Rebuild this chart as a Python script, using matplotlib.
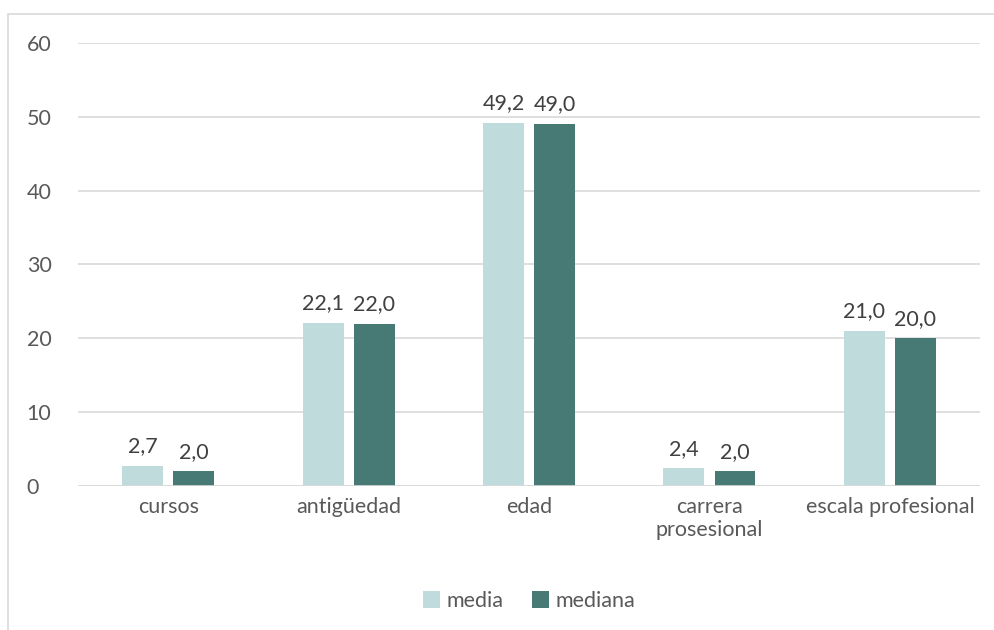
import matplotlib.pyplot as plt
from matplotlib.patches import Rectangle
import numpy as np

categorias = ['cursos', 'antigüedad', 'edad', 'carrera\nprosesional', 'escala profesional']
media = [2.7, 22.1, 49.2, 2.4, 21.0]
mediana = [2.0, 22.0, 49.0, 2.0, 20.0]
ticks_y = [0, 10, 20, 30, 40, 50, 60]

plt.rcParams['font.family'] = ['Lato', 'DejaVu Sans']

c_media = '#c0dbdb'
c_mediana = '#477a75'
fs = 15.5

fig = plt.figure(figsize=(9.95, 6.3), dpi=100)
# marco gris del grafico
fig.patches.append(Rectangle((8 / 995, -0.01), 1.0, 0.988, transform=fig.transFigure,
                             fill=False, edgecolor='#d9d9d9', linewidth=1.2))

ax = fig.add_axes([0.0784, 0.2286, 0.9066, 0.7032])
x = np.arange(len(categorias))
w = 0.227
sep = 0.028
b1 = ax.bar(x - w / 2 - sep, media, w, color=c_media, label='media', zorder=2)
b2 = ax.bar(x + w / 2 + sep, mediana, w, color=c_mediana, label='mediana', zorder=2)

for barras, vals in ((b1, media), (b2, mediana)):
    for b, v in zip(barras, vals):
        ax.text(b.get_x() + b.get_width() / 2, v + 1.3, f'{v:.1f}'.replace('.', ','),
                ha='center', va='bottom', fontsize=fs, color='#404040')

ax.set_xlim(-0.5, len(categorias) - 0.5)
ax.set_ylim(0, 60)
ax.set_yticks(ticks_y)
ax.set_xticks(x)
ax.set_xticklabels(categorias, linespacing=1.2)
ax.tick_params(axis='both', length=0, labelsize=fs, labelcolor='#595959')
ax.tick_params(axis='y', pad=37)
ax.tick_params(axis='x', pad=8)
for lbl in ax.get_yticklabels():
    lbl.set_horizontalalignment('left')
ax.grid(axis='y', color='#d9d9d9', linewidth=1.2, zorder=0)
for s in ax.spines.values():
    s.set_visible(False)
ax.axhline(0, color='#d9d9d9', linewidth=1.2, zorder=3)

ax.legend(loc='center', bbox_to_anchor=(0.5, -0.26), ncol=2, frameon=False,
          fontsize=fs, labelcolor='#595959', handlelength=0.8, handleheight=0.8,
          handletextpad=0.3, columnspacing=1.3)

fig.savefig('out.png', dpi=100)
